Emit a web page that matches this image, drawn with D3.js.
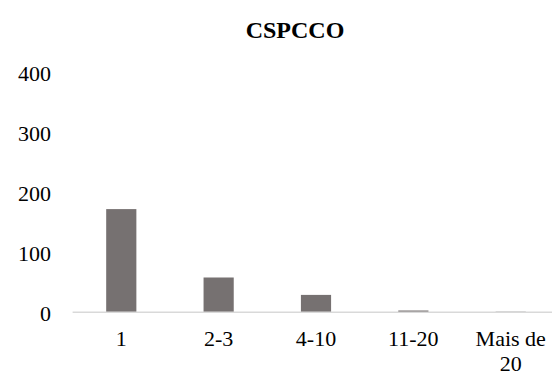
<!DOCTYPE html>
<html>
<head>
<meta charset="utf-8">
<script src="https://cdn.jsdelivr.net/npm/d3@7/dist/d3.min.js"></script>
<style>
html,body{margin:0;padding:0;background:#fff;overflow:hidden;}
svg{display:block;}
</style>
</head>
<body>
<svg id="chart" width="552" height="378"></svg>
<script>
const title = "CSPCCO";
const categories = ["1", "2-3", "4-10", "11-20", "Mais de 20"];
const values = [172, 58, 29, 3, 1];
const yTicks = [0, 100, 200, 300, 400];

const W = 552, H = 378;
const svg = d3.select("#chart");
const font = "'Liberation Serif','Times New Roman',serif";

const x = d3.scaleBand().domain(categories).range([72.6, 559.4]).paddingInner(0.69).paddingOuter(0.345);
const y = d3.scaleLinear().domain([0, 400]).range([312.3, 72.3]);

svg.append("text")
  .attr("x", 295).attr("y", 38)
  .attr("text-anchor", "middle")
  .attr("font-family", font).attr("font-weight", "bold").attr("font-size", 24)
  .text(title);

// y labels
svg.append("g").selectAll("text").data(yTicks).join("text")
  .attr("x", 51).attr("y", d => y(d) + 1)
  .attr("dy", "0.35em")
  .attr("text-anchor", "end")
  .attr("font-family", font).attr("font-size", 22).attr("fill", "#000")
  .text(d => d);

// bars
svg.append("g").selectAll("rect").data(values).join("rect")
  .attr("x", (d, i) => x(categories[i]))
  .attr("width", x.bandwidth())
  .attr("y", d => y(d))
  .attr("height", d => y(0) - y(d))
  .attr("fill", "#767171");

// axis line
svg.append("line")
  .attr("x1", 72.6).attr("x2", 560)
  .attr("y1", y(0)).attr("y2", y(0))
  .attr("stroke", "#d9d9d9").attr("stroke-width", 1.5);

// category labels
const labels = svg.append("g").selectAll("text").data(categories).join("text")
  .attr("text-anchor", "middle")
  .attr("font-family", font).attr("font-size", 22).attr("fill", "#000")
  .attr("x", d => x(d) + x.bandwidth() / 2)
  .attr("y", 346);
labels.each(function(d) {
  const t = d3.select(this);
  const cx = x(d) + x.bandwidth() / 2;
  if (d === "Mais de 20") {
    t.append("tspan").attr("x", cx).attr("dy", 0).text("Mais de");
    t.append("tspan").attr("x", cx).attr("dy", 25).text("20");
  } else {
    t.text(d);
  }
});
</script>
</body>
</html>
